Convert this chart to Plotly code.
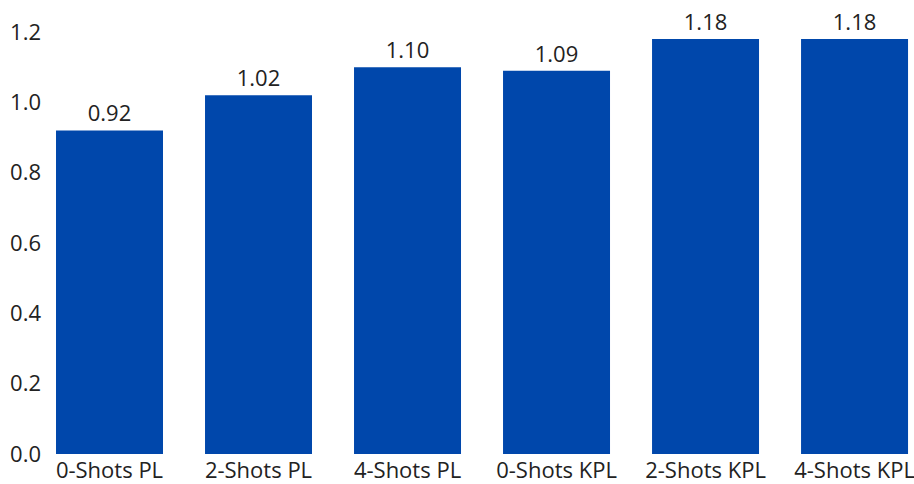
import plotly.graph_objects as go

categories = ["0-Shots PL", "2-Shots PL", "4-Shots PL", "0-Shots KPL", "2-Shots KPL", "4-Shots KPL"]
values = [0.92, 1.02, 1.10, 1.09, 1.18, 1.18]
y_ticks = [0.0, 0.2, 0.4, 0.6, 0.8, 1.0, 1.2]

font_family = "Open Sans, Noto Sans, sans-serif"
text_color = "#222222"
font_size = 22

fig = go.Figure(
    go.Bar(
        x=categories,
        y=values,
        marker=dict(color="#0047AB", line=dict(width=0)),
        text=[f"{v:.2f}" for v in values],
        textposition="outside",
        textfont=dict(size=font_size, color=text_color, family=font_family),
        cliponaxis=False,
    )
)

fig.update_layout(
    width=914,
    height=484,
    margin=dict(l=42, r=0, t=10, b=30),
    paper_bgcolor="white",
    plot_bgcolor="white",
    bargap=0.282,
    showlegend=False,
    uniformtext=dict(minsize=font_size, mode="show"),
    font=dict(family=font_family, size=font_size, color=text_color),
)

fig.update_xaxes(
    range=[-0.453, 5.399],
    showgrid=False,
    showline=False,
    zeroline=False,
    ticks="",
    ticklabelstandoff=1,
    automargin=False,
    tickfont=dict(size=font_size, color=text_color),
)

fig.update_yaxes(
    range=[0, 1.2625],
    tickvals=y_ticks,
    ticktext=[f"{t:.1f}" for t in y_ticks],
    showgrid=False,
    showline=False,
    zeroline=False,
    ticks="",
    automargin=False,
    tickfont=dict(size=font_size, color=text_color),
)

fig.write_html("out.html")
